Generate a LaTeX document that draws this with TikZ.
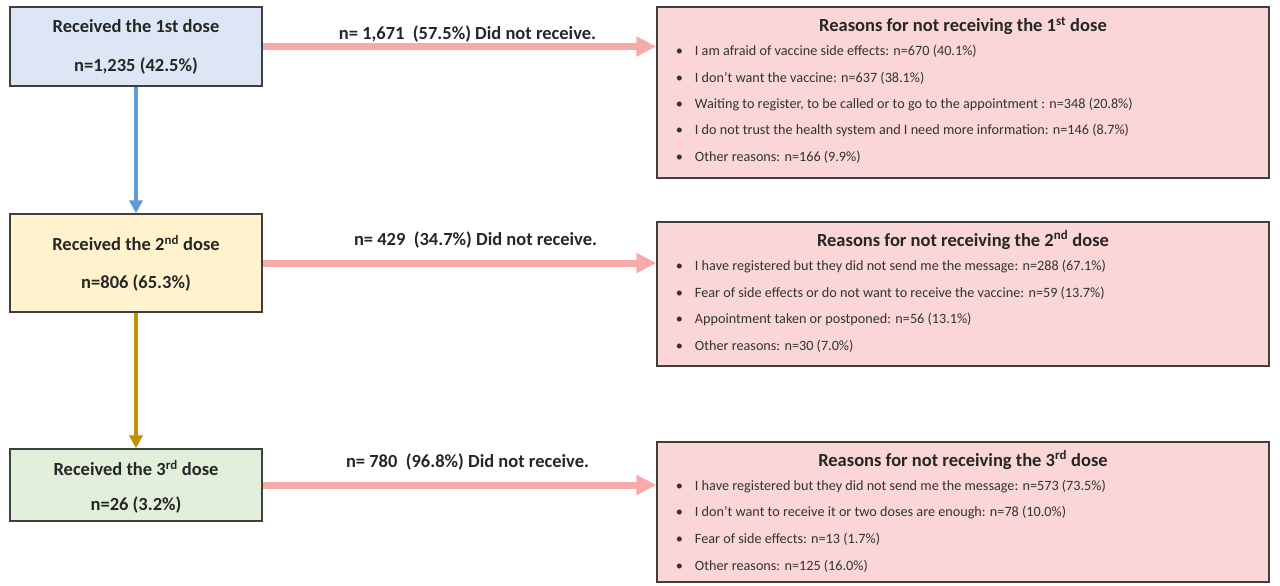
\documentclass[tikz,border=0pt]{standalone}
\usepackage{fontspec}
\setmainfont{Carlito}
\usetikzlibrary{arrows.meta,positioning}

\definecolor{boxline}{HTML}{3F3F3F}
\definecolor{firstfill}{HTML}{DCE6F4}
\definecolor{secondfill}{HTML}{FFF2CC}
\definecolor{thirdfill}{HTML}{E2EFDA}
\definecolor{reasonfill}{HTML}{FAD6D6}
\definecolor{missarrow}{HTML}{F7AAAA}
\definecolor{bluearrow}{HTML}{5B9BD5}
\definecolor{goldarrow}{HTML}{BF9000}

\tikzset{
  dosebox/.style={draw=boxline, line width=1.3pt, minimum width=252pt, align=center,
    font=\fontsize{18.5}{22}\selectfont\bfseries, text=black!85},
  reasonbox/.style={draw=boxline, line width=1.3pt, fill=reasonfill, minimum width=612pt},
  reasontitle/.style={font=\fontsize{18.5}{22}\selectfont\bfseries, text=black!85},
  reasonitem/.style={anchor=west, font=\fontsize{14.2}{17}\selectfont, text=black!80},
  missline/.style={draw=missarrow, line width=7pt, -{Triangle[length=20pt,width=19pt]}},
  passlabel/.style={above=8pt, xshift=8pt, font=\fontsize{18.5}{22}\selectfont\bfseries, text=black!85},
  downline/.style={line width=3.5pt, -{Triangle[length=13pt,width=13pt]}}
}

\newcommand{\reasonlist}[3]{% box name, first item y-offset, list
  \foreach \txt [count=\k] in {#3} {
    \node[reasonitem] at ([xshift=16pt,yshift={-#2-(\k-1)*26.5}]#1.north west) {\textbullet\hspace{12pt}\txt};
  }
}

\begin{document}
\begin{tikzpicture}[x=1pt,y=-1pt]
\useasboundingbox (0,0) rectangle (1280,586);

% doses
\node[dosebox, fill=firstfill, minimum height=79pt] (dose1) at (136,46.5)
  {Received the 1st dose\\[17pt]n=1,235 (42.5\%)};
\node[dosebox, fill=secondfill, minimum height=98pt] (dose2) at (136,263)
  {Received the 2\textsuperscript{nd} dose\\[16pt]n=806 (65.3\%)};
\node[dosebox, fill=thirdfill, minimum height=72pt] (dose3) at (136,485)
  {\rule{0pt}{19pt}Received the 3\textsuperscript{rd} dose\\[13pt]n=26 (3.2\%)};

% reasons
\node[reasonbox, minimum height=171pt] (why1) at (963,92.5) {};
\node[reasonbox, minimum height=144pt] (why2) at (963,294) {};
\node[reasonbox, minimum height=140pt] (why3) at (963,512) {};

\node[reasontitle, below=7pt of why1.north] {Reasons for not receiving the 1\textsuperscript{st} dose};
\node[reasontitle, below=6pt of why2.north] {Reasons for not receiving the 2\textsuperscript{nd} dose};
\node[reasontitle, below=6pt of why3.north] {Reasons for not receiving the 3\textsuperscript{rd} dose};

\reasonlist{why1}{45}{I am afraid of vaccine side effects: n=670 (40.1\%),
  I don’t want the vaccine: n=637 (38.1\%),
  Waiting to register{,} to be called or to go to the appointment : n=348 (20.8\%),
  I do not trust the health system and I need more information: n=146 (8.7\%),
  Other reasons: n=166 (9.9\%)}
\reasonlist{why2}{45}{I have registered but they did not send me the message: n=288 (67.1\%),
  Fear of side effects or do not want to receive the vaccine: n=59 (13.7\%),
  Appointment taken or postponed: n=56 (13.1\%),
  Other reasons: n=30 (7.0\%)}
\reasonlist{why3}{45}{I have registered but they did not send me the message: n=573 (73.5\%),
  I don’t want to receive it or two doses are enough: n=78 (10.0\%),
  Fear of side effects: n=13 (1.7\%),
  Other reasons: n=125 (16.0\%)}

% arrows
\draw[missline] (dose1.east) -- node[passlabel, yshift=-11pt] {n= 1,671\ \ (57.5\%) Did not receive.} (dose1.east -| why1.west);
\draw[missline] (dose2.east) -- node[passlabel, xshift=8pt] {n= 429\ \ (34.7\%) Did not receive.} (dose2.east -| why2.west);
\draw[missline] (dose3.east) -- node[passlabel] {n= 780\ \ (96.8\%) Did not receive.} (dose3.east -| why3.west);

\draw[downline, draw=bluearrow, fill=bluearrow] (dose1.south) -- (dose2.north);
\draw[downline, draw=goldarrow, fill=goldarrow] (dose2.south) -- (dose3.north);
\end{tikzpicture}
\end{document}
